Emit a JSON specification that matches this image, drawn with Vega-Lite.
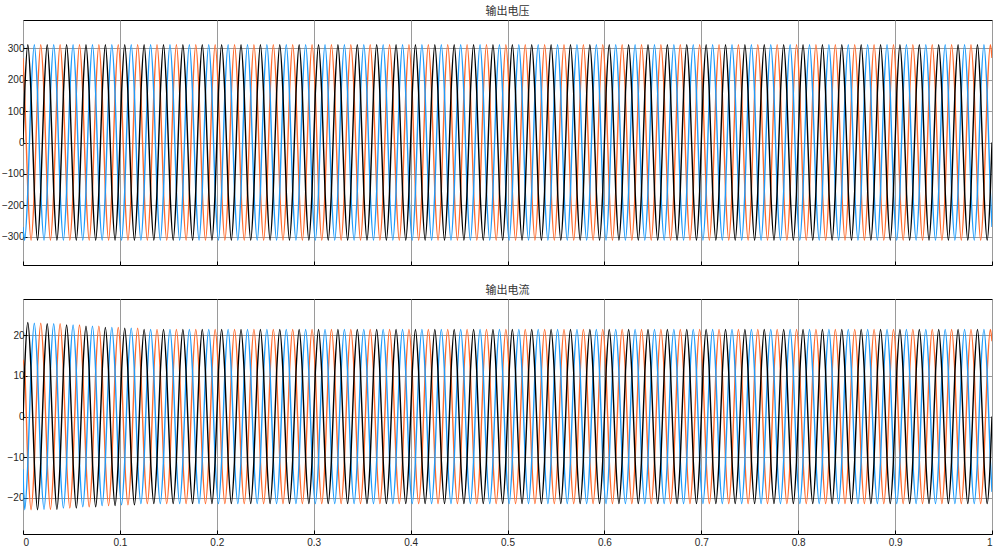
{"$schema":"https://vega.github.io/schema/vega-lite/v6.json","padding":{"left":0,"top":5,"right":5,"bottom":3},"background":"#ffffff","bounds":"flush","spacing":34,"config":{"view":{"stroke":"#000000","strokeWidth":1},"axis":{"labelFont":"Liberation Sans","labelFontSize":10,"labelColor":"#262626","gridColor":"#9a9a9a","gridWidth":1,"gridOpacity":1,"ticks":true,"tickSize":-4,"tickColor":"#000000","domain":false,"title":null,"minExtent":0},"title":{"font":"Noto Sans CJK SC","fontSize":11,"fontWeight":"normal","color":"#333333","offset":3}},
"datasets":{"w":[
{"t":0,"a":0,"b":-269,"c":269,"d":-1,"e":-13,"f":14},
{"t":1.7,"a":155,"b":-311,"c":155,"d":11.5,"e":-23,"f":11.5},
{"t":5,"a":311,"b":-155,"c":-155,"d":23.2,"e":-11.5,"f":-11.5},
{"t":8.3,"a":155,"b":155,"c":-311,"d":11.5,"e":11.5,"f":-23},
{"t":11.7,"a":-155,"b":311,"c":-155,"d":-11.5,"e":23,"f":-11.5},
{"t":15,"a":-311,"b":155,"c":155,"d":-23,"e":11.5,"f":11.5},
{"t":18.3,"a":-155,"b":-155,"c":311,"d":-11.5,"e":-11.5,"f":23},
{"t":21.7,"a":155,"b":-311,"c":155,"d":11.4,"e":-22.9,"f":11.4},
{"t":25,"a":311,"b":-155,"c":-155,"d":22.9,"e":-11.4,"f":-11.4},
{"t":28.3,"a":155,"b":155,"c":-311,"d":11.4,"e":11.4,"f":-22.9},
{"t":31.7,"a":-155,"b":311,"c":-155,"d":-11.4,"e":22.9,"f":-11.4},
{"t":35,"a":-311,"b":155,"c":155,"d":-22.9,"e":11.4,"f":11.4},
{"t":38.3,"a":-155,"b":-155,"c":311,"d":-11.4,"e":-11.4,"f":22.9},
{"t":41.7,"a":155,"b":-311,"c":155,"d":11.3,"e":-22.6,"f":11.3},
{"t":45,"a":311,"b":-155,"c":-155,"d":22.6,"e":-11.3,"f":-11.3},
{"t":48.3,"a":155,"b":155,"c":-311,"d":11.3,"e":11.3,"f":-22.6},
{"t":51.7,"a":-155,"b":311,"c":-155,"d":-11.3,"e":22.6,"f":-11.3},
{"t":55,"a":-311,"b":155,"c":155,"d":-22.6,"e":11.3,"f":11.3},
{"t":58.3,"a":-155,"b":-155,"c":311,"d":-11.3,"e":-11.3,"f":22.6},
{"t":61.7,"a":155,"b":-311,"c":155,"d":11.2,"e":-22.3,"f":11.2},
{"t":65,"a":311,"b":-155,"c":-155,"d":22.3,"e":-11.2,"f":-11.2},
{"t":68.3,"a":155,"b":155,"c":-311,"d":11.2,"e":11.2,"f":-22.3},
{"t":71.7,"a":-155,"b":311,"c":-155,"d":-11.2,"e":22.3,"f":-11.2},
{"t":75,"a":-311,"b":155,"c":155,"d":-22.3,"e":11.2,"f":11.2},
{"t":78.3,"a":-155,"b":-155,"c":311,"d":-11.2,"e":-11.2,"f":22.3},
{"t":81.7,"a":155,"b":-311,"c":155,"d":11,"e":-22,"f":11},
{"t":85,"a":311,"b":-155,"c":-155,"d":22,"e":-11,"f":-11},
{"t":88.3,"a":155,"b":155,"c":-311,"d":11,"e":11,"f":-22},
{"t":91.7,"a":-155,"b":311,"c":-155,"d":-11,"e":22,"f":-11},
{"t":95,"a":-311,"b":155,"c":155,"d":-22,"e":11,"f":11},
{"t":98.3,"a":-155,"b":-155,"c":311,"d":-11,"e":-11,"f":22},
{"t":101.7,"a":155,"b":-311,"c":155,"d":10.9,"e":-21.8,"f":10.9},
{"t":105,"a":311,"b":-155,"c":-155,"d":21.8,"e":-10.9,"f":-10.9},
{"t":108.3,"a":155,"b":155,"c":-311,"d":10.9,"e":10.9,"f":-21.8},
{"t":111.7,"a":-155,"b":311,"c":-155,"d":-10.9,"e":21.8,"f":-10.9},
{"t":115,"a":-311,"b":155,"c":155,"d":-21.8,"e":10.9,"f":10.9},
{"t":118.3,"a":-155,"b":-155,"c":311,"d":-10.9,"e":-10.9,"f":21.8},
{"t":121.7,"a":155,"b":-311,"c":155,"d":10.8,"e":-21.5,"f":10.8},
{"t":125,"a":311,"b":-155,"c":-155,"d":21.5,"e":-10.8,"f":-10.8},
{"t":128.3,"a":155,"b":155,"c":-311,"d":10.8,"e":10.8,"f":-21.5},
{"t":131.7,"a":-155,"b":311,"c":-155,"d":-10.8,"e":21.5,"f":-10.8},
{"t":135,"a":-311,"b":155,"c":155,"d":-21.5,"e":10.8,"f":10.8},
{"t":138.3,"a":-155,"b":-155,"c":311,"d":-10.8,"e":-10.8,"f":21.5},
{"t":141.7,"a":155,"b":-311,"c":155,"d":10.8,"e":-21.5,"f":10.8},
{"t":145,"a":311,"b":-155,"c":-155,"d":21.5,"e":-10.8,"f":-10.8},
{"t":148.3,"a":155,"b":155,"c":-311,"d":10.8,"e":10.8,"f":-21.5},
{"t":151.7,"a":-155,"b":311,"c":-155,"d":-10.8,"e":21.5,"f":-10.8},
{"t":155,"a":-311,"b":155,"c":155,"d":-21.5,"e":10.8,"f":10.8},
{"t":158.3,"a":-155,"b":-155,"c":311,"d":-10.8,"e":-10.8,"f":21.5},
{"t":161.7,"a":155,"b":-311,"c":155,"d":10.8,"e":-21.5,"f":10.8},
{"t":165,"a":311,"b":-155,"c":-155,"d":21.5,"e":-10.8,"f":-10.8},
{"t":168.3,"a":155,"b":155,"c":-311,"d":10.8,"e":10.8,"f":-21.5},
{"t":171.7,"a":-155,"b":311,"c":-155,"d":-10.8,"e":21.5,"f":-10.8},
{"t":175,"a":-311,"b":155,"c":155,"d":-21.5,"e":10.8,"f":10.8},
{"t":178.3,"a":-155,"b":-155,"c":311,"d":-10.8,"e":-10.8,"f":21.5},
{"t":181.7,"a":155,"b":-311,"c":155,"d":10.8,"e":-21.5,"f":10.8},
{"t":185,"a":311,"b":-155,"c":-155,"d":21.5,"e":-10.8,"f":-10.8},
{"t":188.3,"a":155,"b":155,"c":-311,"d":10.8,"e":10.8,"f":-21.5},
{"t":191.7,"a":-155,"b":311,"c":-155,"d":-10.8,"e":21.5,"f":-10.8},
{"t":195,"a":-311,"b":155,"c":155,"d":-21.5,"e":10.8,"f":10.8},
{"t":198.3,"a":-155,"b":-155,"c":311,"d":-10.8,"e":-10.8,"f":21.5},
{"t":201.7,"a":155,"b":-311,"c":155,"d":10.8,"e":-21.5,"f":10.8},
{"t":205,"a":311,"b":-155,"c":-155,"d":21.5,"e":-10.8,"f":-10.8},
{"t":208.3,"a":155,"b":155,"c":-311,"d":10.8,"e":10.8,"f":-21.5},
{"t":211.7,"a":-155,"b":311,"c":-155,"d":-10.8,"e":21.5,"f":-10.8},
{"t":215,"a":-311,"b":155,"c":155,"d":-21.5,"e":10.8,"f":10.8},
{"t":218.3,"a":-155,"b":-155,"c":311,"d":-10.8,"e":-10.8,"f":21.5},
{"t":221.7,"a":155,"b":-311,"c":155,"d":10.8,"e":-21.5,"f":10.8},
{"t":225,"a":311,"b":-155,"c":-155,"d":21.5,"e":-10.8,"f":-10.8},
{"t":228.3,"a":155,"b":155,"c":-311,"d":10.8,"e":10.8,"f":-21.5},
{"t":231.7,"a":-155,"b":311,"c":-155,"d":-10.8,"e":21.5,"f":-10.8},
{"t":235,"a":-311,"b":155,"c":155,"d":-21.5,"e":10.8,"f":10.8},
{"t":238.3,"a":-155,"b":-155,"c":311,"d":-10.8,"e":-10.8,"f":21.5},
{"t":241.7,"a":155,"b":-311,"c":155,"d":10.8,"e":-21.5,"f":10.8},
{"t":245,"a":311,"b":-155,"c":-155,"d":21.5,"e":-10.8,"f":-10.8},
{"t":248.3,"a":155,"b":155,"c":-311,"d":10.8,"e":10.8,"f":-21.5},
{"t":251.7,"a":-155,"b":311,"c":-155,"d":-10.8,"e":21.5,"f":-10.8},
{"t":255,"a":-311,"b":155,"c":155,"d":-21.5,"e":10.8,"f":10.8},
{"t":258.3,"a":-155,"b":-155,"c":311,"d":-10.8,"e":-10.8,"f":21.5},
{"t":261.7,"a":155,"b":-311,"c":155,"d":10.8,"e":-21.5,"f":10.8},
{"t":265,"a":311,"b":-155,"c":-155,"d":21.5,"e":-10.8,"f":-10.8},
{"t":268.3,"a":155,"b":155,"c":-311,"d":10.8,"e":10.8,"f":-21.5},
{"t":271.7,"a":-155,"b":311,"c":-155,"d":-10.8,"e":21.5,"f":-10.8},
{"t":275,"a":-311,"b":155,"c":155,"d":-21.5,"e":10.8,"f":10.8},
{"t":278.3,"a":-155,"b":-155,"c":311,"d":-10.8,"e":-10.8,"f":21.5},
{"t":281.7,"a":155,"b":-311,"c":155,"d":10.8,"e":-21.5,"f":10.8},
{"t":285,"a":311,"b":-155,"c":-155,"d":21.5,"e":-10.8,"f":-10.8},
{"t":288.3,"a":155,"b":155,"c":-311,"d":10.8,"e":10.8,"f":-21.5},
{"t":291.7,"a":-155,"b":311,"c":-155,"d":-10.8,"e":21.5,"f":-10.8},
{"t":295,"a":-311,"b":155,"c":155,"d":-21.5,"e":10.8,"f":10.8},
{"t":298.3,"a":-155,"b":-155,"c":311,"d":-10.8,"e":-10.8,"f":21.5},
{"t":301.7,"a":155,"b":-311,"c":155,"d":10.8,"e":-21.5,"f":10.8},
{"t":305,"a":311,"b":-155,"c":-155,"d":21.5,"e":-10.8,"f":-10.8},
{"t":308.3,"a":155,"b":155,"c":-311,"d":10.8,"e":10.8,"f":-21.5},
{"t":311.7,"a":-155,"b":311,"c":-155,"d":-10.8,"e":21.5,"f":-10.8},
{"t":315,"a":-311,"b":155,"c":155,"d":-21.5,"e":10.8,"f":10.8},
{"t":318.3,"a":-155,"b":-155,"c":311,"d":-10.8,"e":-10.8,"f":21.5},
{"t":321.7,"a":155,"b":-311,"c":155,"d":10.8,"e":-21.5,"f":10.8},
{"t":325,"a":311,"b":-155,"c":-155,"d":21.5,"e":-10.8,"f":-10.8},
{"t":328.3,"a":155,"b":155,"c":-311,"d":10.8,"e":10.8,"f":-21.5},
{"t":331.7,"a":-155,"b":311,"c":-155,"d":-10.8,"e":21.5,"f":-10.8},
{"t":335,"a":-311,"b":155,"c":155,"d":-21.5,"e":10.8,"f":10.8},
{"t":338.3,"a":-155,"b":-155,"c":311,"d":-10.8,"e":-10.8,"f":21.5},
{"t":341.7,"a":155,"b":-311,"c":155,"d":10.8,"e":-21.5,"f":10.8},
{"t":345,"a":311,"b":-155,"c":-155,"d":21.5,"e":-10.8,"f":-10.8},
{"t":348.3,"a":155,"b":155,"c":-311,"d":10.8,"e":10.8,"f":-21.5},
{"t":351.7,"a":-155,"b":311,"c":-155,"d":-10.8,"e":21.5,"f":-10.8},
{"t":355,"a":-311,"b":155,"c":155,"d":-21.5,"e":10.8,"f":10.8},
{"t":358.3,"a":-155,"b":-155,"c":311,"d":-10.8,"e":-10.8,"f":21.5},
{"t":361.7,"a":155,"b":-311,"c":155,"d":10.8,"e":-21.5,"f":10.8},
{"t":365,"a":311,"b":-155,"c":-155,"d":21.5,"e":-10.8,"f":-10.8},
{"t":368.3,"a":155,"b":155,"c":-311,"d":10.8,"e":10.8,"f":-21.5},
{"t":371.7,"a":-155,"b":311,"c":-155,"d":-10.8,"e":21.5,"f":-10.8},
{"t":375,"a":-311,"b":155,"c":155,"d":-21.5,"e":10.8,"f":10.8},
{"t":378.3,"a":-155,"b":-155,"c":311,"d":-10.8,"e":-10.8,"f":21.5},
{"t":381.7,"a":155,"b":-311,"c":155,"d":10.8,"e":-21.5,"f":10.8},
{"t":385,"a":311,"b":-155,"c":-155,"d":21.5,"e":-10.8,"f":-10.8},
{"t":388.3,"a":155,"b":155,"c":-311,"d":10.8,"e":10.8,"f":-21.5},
{"t":391.7,"a":-155,"b":311,"c":-155,"d":-10.8,"e":21.5,"f":-10.8},
{"t":395,"a":-311,"b":155,"c":155,"d":-21.5,"e":10.8,"f":10.8},
{"t":398.3,"a":-155,"b":-155,"c":311,"d":-10.8,"e":-10.8,"f":21.5},
{"t":401.7,"a":155,"b":-311,"c":155,"d":10.8,"e":-21.5,"f":10.8},
{"t":405,"a":311,"b":-155,"c":-155,"d":21.5,"e":-10.8,"f":-10.8},
{"t":408.3,"a":155,"b":155,"c":-311,"d":10.8,"e":10.8,"f":-21.5},
{"t":411.7,"a":-155,"b":311,"c":-155,"d":-10.8,"e":21.5,"f":-10.8},
{"t":415,"a":-311,"b":155,"c":155,"d":-21.5,"e":10.8,"f":10.8},
{"t":418.3,"a":-155,"b":-155,"c":311,"d":-10.8,"e":-10.8,"f":21.5},
{"t":421.7,"a":155,"b":-311,"c":155,"d":10.8,"e":-21.5,"f":10.8},
{"t":425,"a":311,"b":-155,"c":-155,"d":21.5,"e":-10.8,"f":-10.8},
{"t":428.3,"a":155,"b":155,"c":-311,"d":10.8,"e":10.8,"f":-21.5},
{"t":431.7,"a":-155,"b":311,"c":-155,"d":-10.8,"e":21.5,"f":-10.8},
{"t":435,"a":-311,"b":155,"c":155,"d":-21.5,"e":10.8,"f":10.8},
{"t":438.3,"a":-155,"b":-155,"c":311,"d":-10.8,"e":-10.8,"f":21.5},
{"t":441.7,"a":155,"b":-311,"c":155,"d":10.8,"e":-21.5,"f":10.8},
{"t":445,"a":311,"b":-155,"c":-155,"d":21.5,"e":-10.8,"f":-10.8},
{"t":448.3,"a":155,"b":155,"c":-311,"d":10.8,"e":10.8,"f":-21.5},
{"t":451.7,"a":-155,"b":311,"c":-155,"d":-10.8,"e":21.5,"f":-10.8},
{"t":455,"a":-311,"b":155,"c":155,"d":-21.5,"e":10.8,"f":10.8},
{"t":458.3,"a":-155,"b":-155,"c":311,"d":-10.8,"e":-10.8,"f":21.5},
{"t":461.7,"a":155,"b":-311,"c":155,"d":10.8,"e":-21.5,"f":10.8},
{"t":465,"a":311,"b":-155,"c":-155,"d":21.5,"e":-10.8,"f":-10.8},
{"t":468.3,"a":155,"b":155,"c":-311,"d":10.8,"e":10.8,"f":-21.5},
{"t":471.7,"a":-155,"b":311,"c":-155,"d":-10.8,"e":21.5,"f":-10.8},
{"t":475,"a":-311,"b":155,"c":155,"d":-21.5,"e":10.8,"f":10.8},
{"t":478.3,"a":-155,"b":-155,"c":311,"d":-10.8,"e":-10.8,"f":21.5},
{"t":481.7,"a":155,"b":-311,"c":155,"d":10.8,"e":-21.5,"f":10.8},
{"t":485,"a":311,"b":-155,"c":-155,"d":21.5,"e":-10.8,"f":-10.8},
{"t":488.3,"a":155,"b":155,"c":-311,"d":10.8,"e":10.8,"f":-21.5},
{"t":491.7,"a":-155,"b":311,"c":-155,"d":-10.8,"e":21.5,"f":-10.8},
{"t":495,"a":-311,"b":155,"c":155,"d":-21.5,"e":10.8,"f":10.8},
{"t":498.3,"a":-155,"b":-155,"c":311,"d":-10.8,"e":-10.8,"f":21.5},
{"t":501.7,"a":155,"b":-311,"c":155,"d":10.8,"e":-21.5,"f":10.8},
{"t":505,"a":311,"b":-155,"c":-155,"d":21.5,"e":-10.8,"f":-10.8},
{"t":508.3,"a":155,"b":155,"c":-311,"d":10.8,"e":10.8,"f":-21.5},
{"t":511.7,"a":-155,"b":311,"c":-155,"d":-10.8,"e":21.5,"f":-10.8},
{"t":515,"a":-311,"b":155,"c":155,"d":-21.5,"e":10.8,"f":10.8},
{"t":518.3,"a":-155,"b":-155,"c":311,"d":-10.8,"e":-10.8,"f":21.5},
{"t":521.7,"a":155,"b":-311,"c":155,"d":10.8,"e":-21.5,"f":10.8},
{"t":525,"a":311,"b":-155,"c":-155,"d":21.5,"e":-10.8,"f":-10.8},
{"t":528.3,"a":155,"b":155,"c":-311,"d":10.8,"e":10.8,"f":-21.5},
{"t":531.7,"a":-155,"b":311,"c":-155,"d":-10.8,"e":21.5,"f":-10.8},
{"t":535,"a":-311,"b":155,"c":155,"d":-21.5,"e":10.8,"f":10.8},
{"t":538.3,"a":-155,"b":-155,"c":311,"d":-10.8,"e":-10.8,"f":21.5},
{"t":541.7,"a":155,"b":-311,"c":155,"d":10.8,"e":-21.5,"f":10.8},
{"t":545,"a":311,"b":-155,"c":-155,"d":21.5,"e":-10.8,"f":-10.8},
{"t":548.3,"a":155,"b":155,"c":-311,"d":10.8,"e":10.8,"f":-21.5},
{"t":551.7,"a":-155,"b":311,"c":-155,"d":-10.8,"e":21.5,"f":-10.8},
{"t":555,"a":-311,"b":155,"c":155,"d":-21.5,"e":10.8,"f":10.8},
{"t":558.3,"a":-155,"b":-155,"c":311,"d":-10.8,"e":-10.8,"f":21.5},
{"t":561.7,"a":155,"b":-311,"c":155,"d":10.8,"e":-21.5,"f":10.8},
{"t":565,"a":311,"b":-155,"c":-155,"d":21.5,"e":-10.8,"f":-10.8},
{"t":568.3,"a":155,"b":155,"c":-311,"d":10.8,"e":10.8,"f":-21.5},
{"t":571.7,"a":-155,"b":311,"c":-155,"d":-10.8,"e":21.5,"f":-10.8},
{"t":575,"a":-311,"b":155,"c":155,"d":-21.5,"e":10.8,"f":10.8},
{"t":578.3,"a":-155,"b":-155,"c":311,"d":-10.8,"e":-10.8,"f":21.5},
{"t":581.7,"a":155,"b":-311,"c":155,"d":10.8,"e":-21.5,"f":10.8},
{"t":585,"a":311,"b":-155,"c":-155,"d":21.5,"e":-10.8,"f":-10.8},
{"t":588.3,"a":155,"b":155,"c":-311,"d":10.8,"e":10.8,"f":-21.5},
{"t":591.7,"a":-155,"b":311,"c":-155,"d":-10.8,"e":21.5,"f":-10.8},
{"t":595,"a":-311,"b":155,"c":155,"d":-21.5,"e":10.8,"f":10.8},
{"t":598.3,"a":-155,"b":-155,"c":311,"d":-10.8,"e":-10.8,"f":21.5},
{"t":601.7,"a":155,"b":-311,"c":155,"d":10.8,"e":-21.5,"f":10.8},
{"t":605,"a":311,"b":-155,"c":-155,"d":21.5,"e":-10.8,"f":-10.8},
{"t":608.3,"a":155,"b":155,"c":-311,"d":10.8,"e":10.8,"f":-21.5},
{"t":611.7,"a":-155,"b":311,"c":-155,"d":-10.8,"e":21.5,"f":-10.8},
{"t":615,"a":-311,"b":155,"c":155,"d":-21.5,"e":10.8,"f":10.8},
{"t":618.3,"a":-155,"b":-155,"c":311,"d":-10.8,"e":-10.8,"f":21.5},
{"t":621.7,"a":155,"b":-311,"c":155,"d":10.8,"e":-21.5,"f":10.8},
{"t":625,"a":311,"b":-155,"c":-155,"d":21.5,"e":-10.8,"f":-10.8},
{"t":628.3,"a":155,"b":155,"c":-311,"d":10.8,"e":10.8,"f":-21.5},
{"t":631.7,"a":-155,"b":311,"c":-155,"d":-10.8,"e":21.5,"f":-10.8},
{"t":635,"a":-311,"b":155,"c":155,"d":-21.5,"e":10.8,"f":10.8},
{"t":638.3,"a":-155,"b":-155,"c":311,"d":-10.8,"e":-10.8,"f":21.5},
{"t":641.7,"a":155,"b":-311,"c":155,"d":10.8,"e":-21.5,"f":10.8},
{"t":645,"a":311,"b":-155,"c":-155,"d":21.5,"e":-10.8,"f":-10.8},
{"t":648.3,"a":155,"b":155,"c":-311,"d":10.8,"e":10.8,"f":-21.5},
{"t":651.7,"a":-155,"b":311,"c":-155,"d":-10.8,"e":21.5,"f":-10.8},
{"t":655,"a":-311,"b":155,"c":155,"d":-21.5,"e":10.8,"f":10.8},
{"t":658.3,"a":-155,"b":-155,"c":311,"d":-10.8,"e":-10.8,"f":21.5},
{"t":661.7,"a":155,"b":-311,"c":155,"d":10.8,"e":-21.5,"f":10.8},
{"t":665,"a":311,"b":-155,"c":-155,"d":21.5,"e":-10.8,"f":-10.8},
{"t":668.3,"a":155,"b":155,"c":-311,"d":10.8,"e":10.8,"f":-21.5},
{"t":671.7,"a":-155,"b":311,"c":-155,"d":-10.8,"e":21.5,"f":-10.8},
{"t":675,"a":-311,"b":155,"c":155,"d":-21.5,"e":10.8,"f":10.8},
{"t":678.3,"a":-155,"b":-155,"c":311,"d":-10.8,"e":-10.8,"f":21.5},
{"t":681.7,"a":155,"b":-311,"c":155,"d":10.8,"e":-21.5,"f":10.8},
{"t":685,"a":311,"b":-155,"c":-155,"d":21.5,"e":-10.8,"f":-10.8},
{"t":688.3,"a":155,"b":155,"c":-311,"d":10.8,"e":10.8,"f":-21.5},
{"t":691.7,"a":-155,"b":311,"c":-155,"d":-10.8,"e":21.5,"f":-10.8},
{"t":695,"a":-311,"b":155,"c":155,"d":-21.5,"e":10.8,"f":10.8},
{"t":698.3,"a":-155,"b":-155,"c":311,"d":-10.8,"e":-10.8,"f":21.5},
{"t":701.7,"a":155,"b":-311,"c":155,"d":10.8,"e":-21.5,"f":10.8},
{"t":705,"a":311,"b":-155,"c":-155,"d":21.5,"e":-10.8,"f":-10.8},
{"t":708.3,"a":155,"b":155,"c":-311,"d":10.8,"e":10.8,"f":-21.5},
{"t":711.7,"a":-155,"b":311,"c":-155,"d":-10.8,"e":21.5,"f":-10.8},
{"t":715,"a":-311,"b":155,"c":155,"d":-21.5,"e":10.8,"f":10.8},
{"t":718.3,"a":-155,"b":-155,"c":311,"d":-10.8,"e":-10.8,"f":21.5},
{"t":721.7,"a":155,"b":-311,"c":155,"d":10.8,"e":-21.5,"f":10.8},
{"t":725,"a":311,"b":-155,"c":-155,"d":21.5,"e":-10.8,"f":-10.8},
{"t":728.3,"a":155,"b":155,"c":-311,"d":10.8,"e":10.8,"f":-21.5},
{"t":731.7,"a":-155,"b":311,"c":-155,"d":-10.8,"e":21.5,"f":-10.8},
{"t":735,"a":-311,"b":155,"c":155,"d":-21.5,"e":10.8,"f":10.8},
{"t":738.3,"a":-155,"b":-155,"c":311,"d":-10.8,"e":-10.8,"f":21.5},
{"t":741.7,"a":155,"b":-311,"c":155,"d":10.8,"e":-21.5,"f":10.8},
{"t":745,"a":311,"b":-155,"c":-155,"d":21.5,"e":-10.8,"f":-10.8},
{"t":748.3,"a":155,"b":155,"c":-311,"d":10.8,"e":10.8,"f":-21.5},
{"t":751.7,"a":-155,"b":311,"c":-155,"d":-10.8,"e":21.5,"f":-10.8},
{"t":755,"a":-311,"b":155,"c":155,"d":-21.5,"e":10.8,"f":10.8},
{"t":758.3,"a":-155,"b":-155,"c":311,"d":-10.8,"e":-10.8,"f":21.5},
{"t":761.7,"a":155,"b":-311,"c":155,"d":10.8,"e":-21.5,"f":10.8},
{"t":765,"a":311,"b":-155,"c":-155,"d":21.5,"e":-10.8,"f":-10.8},
{"t":768.3,"a":155,"b":155,"c":-311,"d":10.8,"e":10.8,"f":-21.5},
{"t":771.7,"a":-155,"b":311,"c":-155,"d":-10.8,"e":21.5,"f":-10.8},
{"t":775,"a":-311,"b":155,"c":155,"d":-21.5,"e":10.8,"f":10.8},
{"t":778.3,"a":-155,"b":-155,"c":311,"d":-10.8,"e":-10.8,"f":21.5},
{"t":781.7,"a":155,"b":-311,"c":155,"d":10.8,"e":-21.5,"f":10.8},
{"t":785,"a":311,"b":-155,"c":-155,"d":21.5,"e":-10.8,"f":-10.8},
{"t":788.3,"a":155,"b":155,"c":-311,"d":10.8,"e":10.8,"f":-21.5},
{"t":791.7,"a":-155,"b":311,"c":-155,"d":-10.8,"e":21.5,"f":-10.8},
{"t":795,"a":-311,"b":155,"c":155,"d":-21.5,"e":10.8,"f":10.8},
{"t":798.3,"a":-155,"b":-155,"c":311,"d":-10.8,"e":-10.8,"f":21.5},
{"t":801.7,"a":155,"b":-311,"c":155,"d":10.8,"e":-21.5,"f":10.8},
{"t":805,"a":311,"b":-155,"c":-155,"d":21.5,"e":-10.8,"f":-10.8},
{"t":808.3,"a":155,"b":155,"c":-311,"d":10.8,"e":10.8,"f":-21.5},
{"t":811.7,"a":-155,"b":311,"c":-155,"d":-10.8,"e":21.5,"f":-10.8},
{"t":815,"a":-311,"b":155,"c":155,"d":-21.5,"e":10.8,"f":10.8},
{"t":818.3,"a":-155,"b":-155,"c":311,"d":-10.8,"e":-10.8,"f":21.5},
{"t":821.7,"a":155,"b":-311,"c":155,"d":10.8,"e":-21.5,"f":10.8},
{"t":825,"a":311,"b":-155,"c":-155,"d":21.5,"e":-10.8,"f":-10.8},
{"t":828.3,"a":155,"b":155,"c":-311,"d":10.8,"e":10.8,"f":-21.5},
{"t":831.7,"a":-155,"b":311,"c":-155,"d":-10.8,"e":21.5,"f":-10.8},
{"t":835,"a":-311,"b":155,"c":155,"d":-21.5,"e":10.8,"f":10.8},
{"t":838.3,"a":-155,"b":-155,"c":311,"d":-10.8,"e":-10.8,"f":21.5},
{"t":841.7,"a":155,"b":-311,"c":155,"d":10.8,"e":-21.5,"f":10.8},
{"t":845,"a":311,"b":-155,"c":-155,"d":21.5,"e":-10.8,"f":-10.8},
{"t":848.3,"a":155,"b":155,"c":-311,"d":10.8,"e":10.8,"f":-21.5},
{"t":851.7,"a":-155,"b":311,"c":-155,"d":-10.8,"e":21.5,"f":-10.8},
{"t":855,"a":-311,"b":155,"c":155,"d":-21.5,"e":10.8,"f":10.8},
{"t":858.3,"a":-155,"b":-155,"c":311,"d":-10.8,"e":-10.8,"f":21.5},
{"t":861.7,"a":155,"b":-311,"c":155,"d":10.8,"e":-21.5,"f":10.8},
{"t":865,"a":311,"b":-155,"c":-155,"d":21.5,"e":-10.8,"f":-10.8},
{"t":868.3,"a":155,"b":155,"c":-311,"d":10.8,"e":10.8,"f":-21.5},
{"t":871.7,"a":-155,"b":311,"c":-155,"d":-10.8,"e":21.5,"f":-10.8},
{"t":875,"a":-311,"b":155,"c":155,"d":-21.5,"e":10.8,"f":10.8},
{"t":878.3,"a":-155,"b":-155,"c":311,"d":-10.8,"e":-10.8,"f":21.5},
{"t":881.7,"a":155,"b":-311,"c":155,"d":10.8,"e":-21.5,"f":10.8},
{"t":885,"a":311,"b":-155,"c":-155,"d":21.5,"e":-10.8,"f":-10.8},
{"t":888.3,"a":155,"b":155,"c":-311,"d":10.8,"e":10.8,"f":-21.5},
{"t":891.7,"a":-155,"b":311,"c":-155,"d":-10.8,"e":21.5,"f":-10.8},
{"t":895,"a":-311,"b":155,"c":155,"d":-21.5,"e":10.8,"f":10.8},
{"t":898.3,"a":-155,"b":-155,"c":311,"d":-10.8,"e":-10.8,"f":21.5},
{"t":901.7,"a":155,"b":-311,"c":155,"d":10.8,"e":-21.5,"f":10.8},
{"t":905,"a":311,"b":-155,"c":-155,"d":21.5,"e":-10.8,"f":-10.8},
{"t":908.3,"a":155,"b":155,"c":-311,"d":10.8,"e":10.8,"f":-21.5},
{"t":911.7,"a":-155,"b":311,"c":-155,"d":-10.8,"e":21.5,"f":-10.8},
{"t":915,"a":-311,"b":155,"c":155,"d":-21.5,"e":10.8,"f":10.8},
{"t":918.3,"a":-155,"b":-155,"c":311,"d":-10.8,"e":-10.8,"f":21.5},
{"t":921.7,"a":155,"b":-311,"c":155,"d":10.8,"e":-21.5,"f":10.8},
{"t":925,"a":311,"b":-155,"c":-155,"d":21.5,"e":-10.8,"f":-10.8},
{"t":928.3,"a":155,"b":155,"c":-311,"d":10.8,"e":10.8,"f":-21.5},
{"t":931.7,"a":-155,"b":311,"c":-155,"d":-10.8,"e":21.5,"f":-10.8},
{"t":935,"a":-311,"b":155,"c":155,"d":-21.5,"e":10.8,"f":10.8},
{"t":938.3,"a":-155,"b":-155,"c":311,"d":-10.8,"e":-10.8,"f":21.5},
{"t":941.7,"a":155,"b":-311,"c":155,"d":10.8,"e":-21.5,"f":10.8},
{"t":945,"a":311,"b":-155,"c":-155,"d":21.5,"e":-10.8,"f":-10.8},
{"t":948.3,"a":155,"b":155,"c":-311,"d":10.8,"e":10.8,"f":-21.5},
{"t":951.7,"a":-155,"b":311,"c":-155,"d":-10.8,"e":21.5,"f":-10.8},
{"t":955,"a":-311,"b":155,"c":155,"d":-21.5,"e":10.8,"f":10.8},
{"t":958.3,"a":-155,"b":-155,"c":311,"d":-10.8,"e":-10.8,"f":21.5},
{"t":961.7,"a":155,"b":-311,"c":155,"d":10.8,"e":-21.5,"f":10.8},
{"t":965,"a":311,"b":-155,"c":-155,"d":21.5,"e":-10.8,"f":-10.8},
{"t":968.3,"a":155,"b":155,"c":-311,"d":10.8,"e":10.8,"f":-21.5},
{"t":971.7,"a":-155,"b":311,"c":-155,"d":-10.8,"e":21.5,"f":-10.8},
{"t":975,"a":-311,"b":155,"c":155,"d":-21.5,"e":10.8,"f":10.8},
{"t":978.3,"a":-155,"b":-155,"c":311,"d":-10.8,"e":-10.8,"f":21.5},
{"t":981.7,"a":155,"b":-311,"c":155,"d":10.8,"e":-21.5,"f":10.8},
{"t":985,"a":311,"b":-155,"c":-155,"d":21.5,"e":-10.8,"f":-10.8},
{"t":988.3,"a":155,"b":155,"c":-311,"d":10.8,"e":10.8,"f":-21.5},
{"t":991.7,"a":-155,"b":311,"c":-155,"d":-10.8,"e":21.5,"f":-10.8},
{"t":995,"a":-311,"b":155,"c":155,"d":-21.5,"e":10.8,"f":10.8},
{"t":998.3,"a":-155,"b":-155,"c":311,"d":-10.8,"e":-10.8,"f":21.5},
{"t":1000,"a":0,"b":-269,"c":269,"d":0,"e":-18.6,"f":18.6}
]},
"vconcat":[
{"width":969,"height":245,"title":"输出电压","data":{"name":"w"},"transform":[{"fold":["c","b","a"],"as":["k","v"]}],"mark":{"type":"line","interpolate":"monotone","strokeWidth":1.4,"clip":true},"encoding":{"x":{"field":"t","type":"quantitative","scale":{"domain":[0,1000],"nice":false,"zero":false},"axis":{"values":[0,100,200,300,400,500,600,700,800,900,1000],"labels":false,"grid":true}},"y":{"field":"v","type":"quantitative","scale":{"domain":[-390,390],"nice":false},"axis":{"values":[-300,-200,-100,0,100,200,300],"labelPadding":3,"grid":true}},"color":{"field":"k","type":"nominal","scale":{"domain":["a","b","c"],"range":["#000000","#1E9BFA","#FF6A2C"]},"legend":null},"detail":{"field":"k"}}},
{"width":969,"height":235,"title":"输出电流","data":{"name":"w"},"transform":[{"fold":["f","e","d"],"as":["k","v"]}],"mark":{"type":"line","interpolate":"monotone","strokeWidth":1.4,"clip":true},"encoding":{"x":{"field":"t","type":"quantitative","scale":{"domain":[0,1000],"nice":false,"zero":false},"axis":{"values":[0,100,200,300,400,500,600,700,800,900,1000],"labelExpr":"datum.value/1000","labelPadding":7,"grid":true}},"y":{"field":"v","type":"quantitative","scale":{"domain":[-29,29],"nice":false},"axis":{"values":[-20,-10,0,10,20],"labelPadding":3,"grid":true}},"color":{"field":"k","type":"nominal","scale":{"domain":["d","e","f"],"range":["#000000","#1E9BFA","#FF6A2C"]},"legend":null},"detail":{"field":"k"}}}
]}
